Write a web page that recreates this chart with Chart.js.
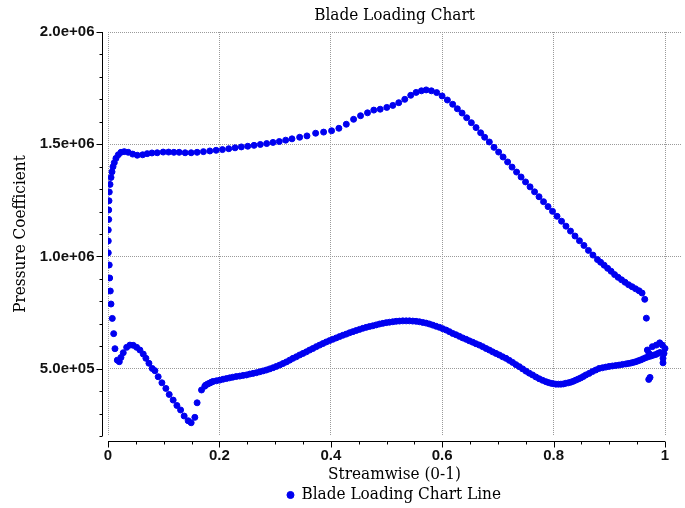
<!DOCTYPE html>
<html>
<head>
<meta charset="utf-8">
<script src="https://cdn.jsdelivr.net/npm/chart.js@4.4.1/dist/chart.umd.min.js"></script>
<style>
  html, body { margin: 0; padding: 0; background: #fff; }
  #wrap { width: 685px; height: 508px; }
</style>
</head>
<body>
<div id="wrap"><canvas id="chart" width="685" height="508"></canvas></div>
<script>
// Upper curve (leading edge column, then across the top to the trailing edge)
const upperX = [0.0125,0.0102,0.0077,0.0054,0.0041,0.0030,0.0022,0.0005,0.0005,0.0005,0.0013,0.0013,0.0018,0.0023,0.0036,0.0054,0.0072,0.0090,0.0113,0.0143,0.0185,0.0233,0.0292,0.0364,0.0443,0.0525,0.0622,0.0704,0.0789,0.0884,0.0991,0.1088,0.1183,0.1278,0.1385,0.1493,0.1600,0.1713,0.1828,0.1941,0.2054,0.2168,0.2281,0.2394,0.2509,0.2622,0.2735,0.2849,0.2962,0.3075,0.3190,0.3303,0.3441,0.3572,0.3728,0.3871,0.4014,0.4145,0.4278,0.4409,0.4534,0.4659,0.4772,0.4887,0.5005,0.5113,0.5220,0.5328,0.5435,0.5532,0.5627,0.5712,0.5806,0.5901,0.5998,0.6093,0.6188,0.6272,0.6357,0.6439,0.6523,0.6608,0.6690,0.6762,0.6846,0.6930,0.7013,0.7093,0.7174,0.7254,0.7335,0.7416,0.7496,0.7577,0.7658,0.7738,0.7819,0.7900,0.7980,0.8061,0.8142,0.8222,0.8303,0.8384,0.8464,0.8545,0.8625,0.8706,0.8787,0.8844,0.8907,0.8970,0.9032,0.9095,0.9158,0.9220,0.9283,0.9346,0.9409,0.9471,0.9534,0.9588,0.9636,0.9665];
const upperY = [589000,656000,724000,788000,846000,904000,962000,1016000,1069000,1118000,1165000,1207000,1248000,1287000,1321000,1352000,1377000,1400000,1418000,1437000,1453000,1464000,1467000,1464000,1456000,1451000,1453000,1458000,1461000,1462000,1465000,1465000,1464000,1464000,1462000,1462000,1464000,1467000,1470000,1473000,1476000,1480000,1484000,1488000,1491000,1495000,1499000,1503000,1508000,1512000,1518000,1524000,1531000,1537000,1549000,1554000,1560000,1571000,1589000,1611000,1627000,1640000,1652000,1656000,1664000,1673000,1685000,1700000,1718000,1731000,1738000,1742000,1738000,1730000,1715000,1697000,1678000,1658000,1639000,1618000,1596000,1574000,1551000,1531000,1510000,1486000,1465000,1443000,1421000,1398000,1376000,1354000,1332000,1310000,1288000,1266000,1244000,1222000,1201000,1179000,1157000,1135000,1113000,1091000,1070000,1049000,1027000,1006000,986000,974000,961000,947000,934000,919000,907000,896000,885000,874000,865000,856000,847000,837000,809000,725000];

// Lower curve (leading edge bump and dip, then the dense band)
const lowerX = [0.0167,0.0203,0.0233,0.0274,0.0335,0.0394,0.0453,0.0514,0.0573,0.0633,0.0681,0.0735,0.0794,0.0842,0.0901,0.0968,0.1039,0.1099,0.1170,0.1237,0.1303,0.1367,0.1439,0.1493,0.1559,0.1600,0.1679,0.1738,
  0.1756,0.1792,0.1828,0.1858,0.1887,0.1947,0.2007,0.2067,0.2127,0.2184,0.2240,0.2303,0.2366,0.2426,0.2486,0.2545,0.2604,0.2664,0.2724,0.2784,0.2844,0.2903,0.2962,0.3022,0.3082,0.3142,0.3203,0.3262,0.3321,0.3381,0.3441,0.3501,0.3561,0.3620,0.3679,0.3739,0.3799,0.3859,0.3919,0.3978,0.4038,0.4098,0.4158,0.4218,0.4278,0.4337,0.4396,0.4456,0.4516,0.4576,0.4636,0.4695,0.4754,0.4815,0.4875,0.4935,0.4995,0.5054,0.5113,0.5173,0.5233,0.5293,0.5353,0.5412,0.5471,0.5531,0.5591,0.5651,0.5711,0.5770,0.5830,0.5890,0.5950,0.6010,0.6070,0.6129,0.6188,0.6248,0.6308,0.6368,0.6428,0.6487,0.6547,0.6607,0.6667,0.6727,0.6787,0.6846,0.6905,0.6965,0.7025,0.7085,0.7145,0.7204,0.7263,0.7323,0.7384,0.7444,0.7504,0.7563,0.7622,0.7682,0.7742,0.7802,0.7862,0.7907,0.7952,0.7996,0.8041,0.8086,0.8131,0.8176,0.8220,0.8265,0.8310,0.8355,0.8400,0.8445,0.8489,0.8534,0.8579,0.8638,0.8697,0.8757,0.8817,0.8877,0.8937,0.8996,0.9056,0.9116,0.9176,0.9236,0.9296,0.9340,0.9385,0.9430,0.9475,0.9520,0.9564,0.9609,0.9654,0.9699,0.9744,0.9789,0.9833,0.9872,0.9910];
const lowerY = [538000,531000,550000,571000,595000,605000,604000,595000,583000,565000,546000,524000,501000,491000,464000,437000,412000,385000,360000,336000,316000,289000,268000,259000,283000,348000,405000,422000,
  427000,432000,436000,440000,443000,446000,449000,453000,456000,459000,462000,465000,467000,470000,472000,476000,479000,482000,486000,490000,494000,499000,504000,510000,516000,523000,530000,538000,546000,553000,561000,568000,575000,583000,590000,598000,605000,612000,619000,625000,631000,637000,643000,649000,654000,660000,665000,670000,675000,680000,684000,688000,691000,695000,699000,702000,705000,707000,709000,711000,712000,713000,713000,713000,712000,711000,709000,706000,703000,699000,694000,689000,684000,678000,672000,665000,657000,651000,644000,637000,631000,624000,618000,611000,605000,598000,590000,583000,575000,568000,561000,553000,546000,537000,528000,518000,509000,499000,489000,480000,472000,463000,455000,448000,442000,438000,435000,433000,431000,431000,431000,432000,435000,437000,440000,444000,449000,454000,459000,465000,472000,479000,487000,494000,501000,504000,507000,510000,512000,514000,516000,519000,521000,523000,525000,528000,531000,535000,539000,544000,549000,553000,556000,560000,563000,568000,572000];

// Trailing edge cluster
const trailX = [0.9683,0.9713,0.9772,0.9844,0.9905,0.9952,1.0000,0.9982,0.9964,0.9964,0.9708,0.9731];
const trailY = [583000,568000,598000,605000,615000,605000,590000,568000,546000,526000,452000,461000];

// Axes
const xTickValues = [0,0.05,0.1,0.15,0.2,0.25,0.3,0.35,0.4,0.45,0.5,0.55,0.6,0.65,0.7,0.75,0.8,0.85,0.9,0.95,1];
const xLabelValues = [0,0.2,0.4,0.6,0.8,1];
const yTickValues = [200000,300000,400000,500000,600000,700000,800000,900000,1000000,1100000,1200000,1300000,1400000,1500000,1600000,1700000,1800000,1900000,2000000];
const yLabelValues = [500000,1000000,1500000,2000000];

const BLUE = 'rgb(0,0,240)';
const GRID = '#9a9a9a';
const SERIF = "'DejaVu Serif Condensed', 'DejaVu Serif', serif";
const SANS = "'Liberation Sans', Arial, sans-serif";

function zip(xs, ys) {
  return xs.map((x, i) => ({ x, y: ys[i] }));
}

const points = [].concat(zip(upperX, upperY), zip(lowerX, lowerY), zip(trailX, trailY));

function isLabelled(list, v) {
  return list.some(t => Math.abs(t - v) < 1e-9);
}

// 5.0e+05 style
function formatExp(v) {
  const parts = v.toExponential(1).split('e');
  const e = parseInt(parts[1], 10);
  return parts[0] + 'e' + (e < 0 ? '-' : '+') + String(Math.abs(e)).padStart(2, '0');
}

// Axis lines sit a few pixels off the plot area, with major and minor ticks
const offsetAxes = {
  id: 'offsetAxes',
  beforeDatasetsDraw(chart) {
    const { ctx, chartArea: a, scales: { x, y } } = chart;
    const ax = a.left - 5.5;
    const ay = a.bottom + 5.5;
    ctx.save();
    ctx.strokeStyle = '#000';
    ctx.lineWidth = 1;
    ctx.beginPath();
    ctx.moveTo(ax, y.getPixelForValue(yTickValues[0]));
    ctx.lineTo(ax, y.getPixelForValue(yTickValues[yTickValues.length - 1]));
    yTickValues.forEach(v => {
      const p = Math.round(y.getPixelForValue(v)) + 0.5;
      const len = isLabelled(yLabelValues, v) ? 6 : 3;
      ctx.moveTo(ax, p);
      ctx.lineTo(ax - len, p);
    });
    ctx.moveTo(x.getPixelForValue(0), ay);
    ctx.lineTo(x.getPixelForValue(1), ay);
    xTickValues.forEach(v => {
      const p = Math.round(x.getPixelForValue(v)) + 0.5;
      const len = isLabelled(xLabelValues, v) ? 6 : 3;
      ctx.moveTo(p, ay);
      ctx.lineTo(p, ay + len);
    });
    ctx.stroke();
    ctx.restore();
  }
};

new Chart(document.getElementById('chart'), {
  type: 'scatter',
  data: {
    datasets: [{
      label: 'Blade Loading Chart Line',
      data: points,
      showLine: false,
      pointRadius: 3,
      pointHoverRadius: 3,
      borderWidth: 1,
      backgroundColor: BLUE,
      borderColor: BLUE,
    }],
  },
  options: {
    responsive: false,
    animation: false,
    devicePixelRatio: 1,
    layout: { padding: { left: 4, right: 3, top: 0, bottom: -5.5 } },
    plugins: {
      title: {
        display: true,
        text: 'Blade Loading Chart',
        fullSize: false,
        color: '#000',
        font: { family: SERIF, size: 17, weight: 'normal' },
        padding: { top: 5, bottom: 6.6 },
      },
      legend: {
        position: 'bottom',
        fullSize: false,
        labels: {
          usePointStyle: true,
          pointStyle: 'circle',
          boxWidth: 5,
          boxHeight: 5,
          padding: 2,
          color: '#000',
          font: { family: SERIF, size: 17 },
        },
      },
      tooltip: { enabled: false },
    },
    scales: {
      x: {
        type: 'linear',
        min: 0,
        max: 1.0287,
        afterBuildTicks: s => { s.ticks = xTickValues.map(v => ({ value: v })); },
        afterFit: s => { s.height = 48.5; },
        grid: {
          color: c => isLabelled(xLabelValues, c.tick.value) ? GRID : 'rgba(0,0,0,0)',
          drawTicks: false,
        },
        border: { display: false, dash: [1, 1] },
        ticks: {
          autoSkip: false,
          maxRotation: 0,
          padding: 11,
          color: '#111',
          font: { family: SANS, size: 15, weight: 'bold' },
          callback: v => isLabelled(xLabelValues, v) ? String(Math.round(v * 10) / 10) : '',
        },
        title: {
          display: true,
          text: 'Streamwise (0-1)',
          color: '#000',
          font: { family: SERIF, size: 17 },
          padding: { top: 0, bottom: 0 },
        },
      },
      y: {
        type: 'linear',
        min: 200000,
        max: 2000000,
        afterBuildTicks: s => { s.ticks = yTickValues.map(v => ({ value: v })); },
        afterFit: s => { s.width = 104; },
        grid: {
          color: c => isLabelled(yLabelValues, c.tick.value) ? GRID : 'rgba(0,0,0,0)',
          drawTicks: false,
        },
        border: { display: false, dash: [1, 1] },
        ticks: {
          autoSkip: false,
          padding: 13.5,
          color: '#111',
          font: { family: SANS, size: 15, weight: 'bold' },
          callback: v => isLabelled(yLabelValues, v) ? formatExp(v) : '',
        },
        title: {
          display: true,
          text: 'Pressure Coefficient',
          color: '#000',
          font: { family: SERIF, size: 17 },
          padding: { top: 6.8, bottom: 0 },
        },
      },
    },
  },
  plugins: [offsetAxes],
});
</script>
</body>
</html>
